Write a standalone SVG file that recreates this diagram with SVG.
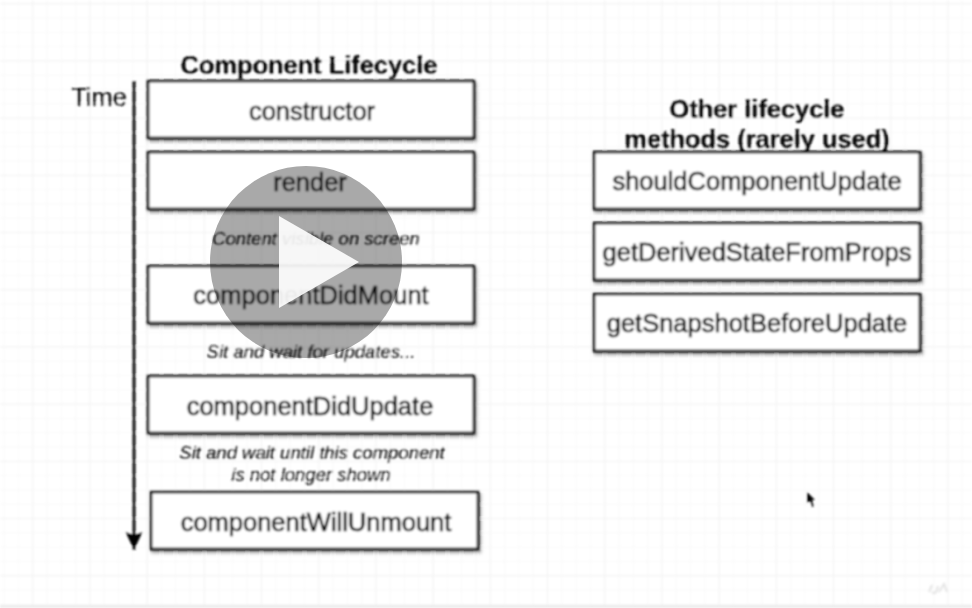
<svg xmlns="http://www.w3.org/2000/svg" width="972" height="608" viewBox="0 0 972 608">
<style>
.box{fill:#fff;stroke:#111;stroke-width:2.8}
.t{font-family:"Liberation Sans",Arial,sans-serif;font-size:25.5px;fill:#000;stroke:#000;stroke-width:0.2;text-anchor:middle}
g[id] .t{stroke-width:0.6}
.h{font-family:"Liberation Sans",Arial,sans-serif;font-size:25.4px;font-weight:bold;fill:#000;stroke:#000;stroke-width:0.2;text-anchor:middle}
.n{font-family:"Liberation Sans",Arial,sans-serif;font-size:18.5px;font-style:italic;fill:#000;stroke:#000;stroke-width:0.15;text-anchor:middle}
</style>
<defs>
<pattern id="minor" x="4.6" y="4.2" width="14.3" height="14.3" patternUnits="userSpaceOnUse"><path d="M14.3 0V14.3M0 14.3H14.3" fill="none" stroke="#f4f4f4" stroke-width="1"/></pattern>
<pattern id="major" x="33.2" y="4.2" width="57.2" height="57.2" patternUnits="userSpaceOnUse"><path d="M57.2 0V57.2M0 57.2H57.2" fill="none" stroke="#ebebeb" stroke-width="1"/></pattern>
<filter id="soft" x="0" y="0" width="100%" height="100%"><feGaussianBlur stdDeviation="0.9"/></filter>
<filter id="sh" x="-5%" y="-15%" width="110%" height="130%"><feDropShadow dx="1.5" dy="2.5" stdDeviation="1.5" flood-color="#000" flood-opacity="0.4"/></filter>
<marker id="ah" markerUnits="userSpaceOnUse" markerWidth="20" markerHeight="20" refX="18" refY="9" orient="auto"><path d="M0 0.5L18 9L0 17.5L3 9Z" fill="#000"/></marker>
</defs>
<rect width="972" height="608" fill="#fff"/>
<g filter="url(#soft)">
<rect width="972" height="608" fill="url(#minor)"/>
<rect width="972" height="608" fill="url(#major)"/>
<rect y="605" width="972" height="3" fill="#ececec"/>
<text class="h" x="309" y="73.5">Component Lifecycle</text>
<text class="t" x="99" y="105.5">Time</text>
<g id="connectors"><line x1="134" y1="81" x2="134" y2="550" stroke="#000" stroke-width="3" marker-end="url(#ah)"/></g>
<g id="constructor"><rect class="box" filter="url(#sh)" x="148" y="81" width="326" height="57"/><text class="t" x="312" y="120">constructor</text></g>
<g id="render"><rect class="box" filter="url(#sh)" x="148" y="152" width="326" height="57"/><text class="t" x="310" y="191">render</text></g>
<text class="n" x="316" y="245">Content visible on screen</text>
<g id="componentDidMount"><rect class="box" filter="url(#sh)" x="148" y="266" width="326" height="57"/><text class="t" x="311" y="304">componentDidMount</text></g>
<text class="n" x="311" y="358">Sit and wait for updates...</text>
<g id="componentDidUpdate"><rect class="box" filter="url(#sh)" x="148" y="376" width="326" height="57"/><text class="t" x="310" y="414.5">componentDidUpdate</text></g>
<text class="n" x="312" y="459">Sit and wait until this component</text>
<text class="n" x="311" y="481">is not longer shown</text>
<g id="componentWillUnmount"><rect class="box" filter="url(#sh)" x="151" y="492" width="327" height="57"/><text class="t" x="316" y="530.5">componentWillUnmount</text></g>
<text class="h" x="757" y="117.5">Other lifecycle</text>
<text class="h" x="757" y="147.5">methods (rarely used)</text>
<g id="shouldComponentUpdate"><rect class="box" filter="url(#sh)" x="594" y="152" width="326" height="57"/><text class="t" x="757" y="190">shouldComponentUpdate</text></g>
<g id="getDerivedStateFromProps"><rect class="box" filter="url(#sh)" x="594" y="223" width="326" height="57"/><text class="t" x="757" y="261">getDerivedStateFromProps</text></g>
<g id="getSnapshotBeforeUpdate"><rect class="box" filter="url(#sh)" x="594" y="294" width="326" height="57"/><text class="t" x="757" y="332">getSnapshotBeforeUpdate</text></g>
<path d="M807 492L807 503L810 501L812 507L814 506L812 500L815 500Z" fill="#000"/>
<path d="M929 592L932 585M932 592Q936 596 938 586M939 592L944 584L947 592" fill="none" stroke="#e4e4e4" stroke-width="2"/>
</g>
<g id="play"><circle cx="306" cy="262" r="96" fill="#a9a9a9" style="mix-blend-mode:multiply"/><path d="M279 216L359 262L279 308Z" fill="#fff" fill-opacity="0.9"/></g>
</svg>
